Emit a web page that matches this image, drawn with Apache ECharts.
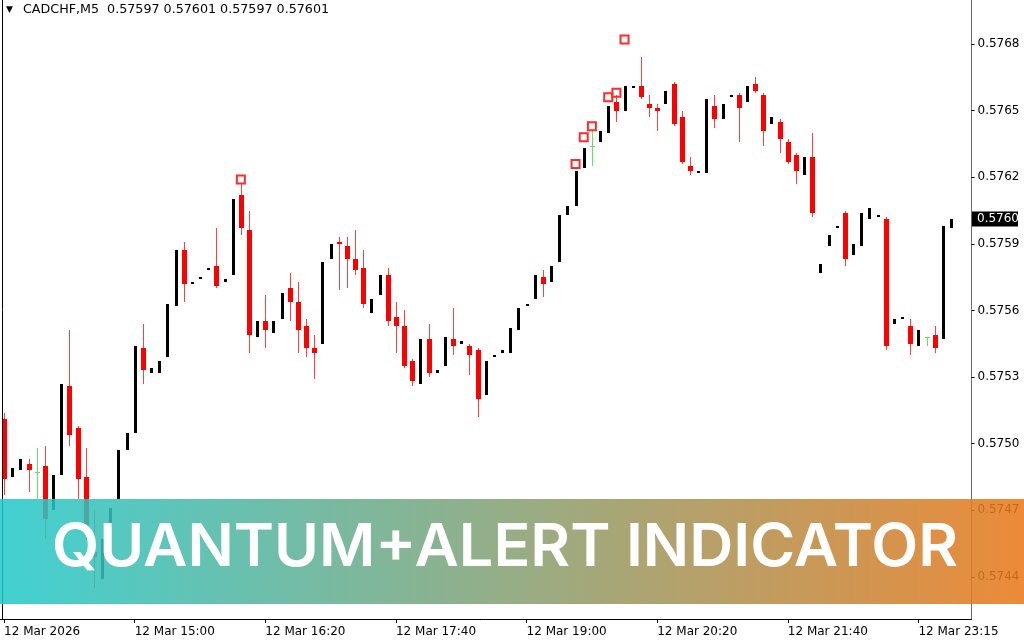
<!DOCTYPE html>
<html><head><meta charset="utf-8">
<script src="https://cdn.jsdelivr.net/npm/echarts@6/dist/echarts.min.js"></script>
<style>html,body{margin:0;padding:0;background:#fff}#c{width:1024px;height:640px}</style>
</head><body><div id="c"></div>
<script>
// ---------- data ----------
const headerText = 'CADCHF,M5  0.57597 0.57601 0.57597 0.57601';
const tickIdx = [0, 16, 32, 48, 64, 80, 96, 112];
const tickLabels = ['12 Mar 2026','12 Mar 15:00','12 Mar 16:20','12 Mar 17:40','12 Mar 19:00','12 Mar 20:20','12 Mar 21:40','12 Mar 23:15'];
const opens = [0.57511,0.57485,0.57488,0.57491,0.57487,0.57490,0.57470,0.57486,0.57526,0.57507,
 0.57485,0.57451,0.57439,0.57463,0.57475,0.57497,0.57505,0.57543,0.57532,0.57532,
 0.57539,0.57562,0.57587,0.57572,0.57574,0.57578,0.57580,0.57573,0.57576,0.57612,
 0.57596,0.57548,0.57555,0.57550,0.57556,0.57570,0.57564,0.57553,0.57543,0.57545,
 0.57583,0.57591,0.57589,0.57583,0.57579,0.57559,0.57567,0.57576,0.57557,0.57553,
 0.57537,0.57527,0.57547,0.57532,0.57535,0.57547,0.57545,0.57544,0.57542,0.57522,
 0.57539,0.57541,0.57541,0.57551,0.57562,0.57565,0.57575,0.57573,0.57582,0.57603,
 0.57607,0.57624,0.57634,0.57636,0.57640,0.57654,0.57650,0.57660,0.57661,0.57653,
 0.57651,0.57653,0.57662,0.57647,0.57625,0.57622,0.57622,0.57652,0.57646,0.57656,
 0.57657,0.57654,0.57662,0.57657,0.57644,0.57645,0.57636,0.57630,0.57621,0.57629,
 0.57577,0.57589,0.57597,0.57604,0.57585,0.57589,0.57601,0.57602,0.57601,0.57554,
 0.57556,0.57553,0.57544,0.57548,0.57549,0.57547,0.57597];
const highs = [0.57514,0.57489,0.57493,0.57493,0.57498,0.57499,0.57486,0.57527,0.57551,0.57508,
 0.57498,0.57470,0.57457,0.57471,0.57497,0.57505,0.57544,0.57554,0.57534,0.57537,
 0.57563,0.57587,0.57591,0.57573,0.57575,0.57579,0.57597,0.57574,0.57610,0.57617,
 0.57605,0.57555,0.57567,0.57555,0.57568,0.57577,0.57573,0.57556,0.57549,0.57582,
 0.57590,0.57593,0.57593,0.57596,0.57587,0.57565,0.57576,0.57579,0.57564,0.57560,
 0.57538,0.57547,0.57554,0.57533,0.57548,0.57561,0.57546,0.57545,0.57543,0.57537,
 0.57540,0.57542,0.57552,0.57561,0.57563,0.57576,0.57578,0.57580,0.57603,0.57607,
 0.57623,0.57633,0.57641,0.57641,0.57652,0.57657,0.57661,0.57661,0.57674,0.57657,
 0.57653,0.57659,0.57663,0.57650,0.57629,0.57623,0.57655,0.57657,0.57653,0.57657,
 0.57658,0.57661,0.57665,0.57658,0.57647,0.57646,0.57637,0.57631,0.57629,0.57640,
 0.57581,0.57594,0.57598,0.57605,0.57590,0.57604,0.57606,0.57603,0.57602,0.57556,
 0.57557,0.57556,0.57551,0.57548,0.57553,0.57598,0.57601];
const lows = [0.57477,0.57485,0.57488,0.57478,0.57475,0.57457,0.57470,0.57486,0.57499,0.57475,
 0.57457,0.57435,0.57439,0.57463,0.57475,0.57497,0.57505,0.57527,0.57532,0.57532,
 0.57539,0.57562,0.57564,0.57572,0.57574,0.57578,0.57570,0.57573,0.57576,0.57594,
 0.57541,0.57548,0.57543,0.57550,0.57556,0.57555,0.57541,0.57539,0.57529,0.57545,
 0.57583,0.57569,0.57570,0.57576,0.57561,0.57559,0.57567,0.57553,0.57541,0.57534,
 0.57526,0.57527,0.57530,0.57532,0.57535,0.57540,0.57545,0.57531,0.57512,0.57522,
 0.57539,0.57541,0.57541,0.57551,0.57562,0.57565,0.57566,0.57573,0.57582,0.57603,
 0.57607,0.57624,0.57625,0.57636,0.57640,0.57645,0.57650,0.57660,0.57655,0.57647,
 0.57641,0.57653,0.57643,0.57626,0.57621,0.57622,0.57622,0.57642,0.57646,0.57656,
 0.57636,0.57654,0.57658,0.57634,0.57644,0.57631,0.57626,0.57617,0.57621,0.57602,
 0.57577,0.57589,0.57597,0.57580,0.57585,0.57589,0.57601,0.57602,0.57542,0.57554,
 0.57556,0.57540,0.57544,0.57544,0.57541,0.57547,0.57597];
const closes = [0.57484,0.57489,0.57493,0.57488,0.57487,0.57466,0.57486,0.57527,0.57504,0.57484,
 0.57461,0.57449,0.57457,0.57471,0.57497,0.57505,0.57544,0.57533,0.57534,0.57537,
 0.57563,0.57587,0.57572,0.57573,0.57575,0.57579,0.57571,0.57574,0.57610,0.57597,
 0.57549,0.57555,0.57551,0.57555,0.57568,0.57564,0.57551,0.57543,0.57541,0.57582,
 0.57590,0.57590,0.57583,0.57578,0.57563,0.57565,0.57576,0.57555,0.57553,0.57535,
 0.57528,0.57547,0.57532,0.57533,0.57548,0.57544,0.57546,0.57540,0.57520,0.57537,
 0.57540,0.57542,0.57552,0.57561,0.57563,0.57576,0.57572,0.57580,0.57603,0.57607,
 0.57623,0.57633,0.57634,0.57641,0.57652,0.57650,0.57661,0.57661,0.57656,0.57651,
 0.57650,0.57659,0.57644,0.57627,0.57623,0.57623,0.57655,0.57646,0.57653,0.57657,
 0.57651,0.57661,0.57659,0.57641,0.57647,0.57637,0.57627,0.57623,0.57629,0.57604,
 0.57581,0.57594,0.57598,0.57583,0.57590,0.57604,0.57606,0.57603,0.57544,0.57556,
 0.57557,0.57545,0.57551,0.57548,0.57543,0.57598,0.57601];
const alertIdx = [29, 70, 71, 72, 74, 75, 76];
const alertPrice = [0.57619, 0.57626, 0.57638, 0.57643, 0.57656, 0.57658, 0.57682];
const priceTicks = { min: 0.5741, max: 0.5771, step: 0.0003 };
const bannerText = 'QUANTUM+ALERT INDICATOR';

// ---------- categories (5-minute bars, 3 bars missing after 21:55) ----------
const categories = [];
{
  let t = 13 * 60 + 40;
  for (let i = 0; i < opens.length; i++) {
    if (i === 100) t += 15;
    categories.push(String(Math.floor(t / 60)).padStart(2, '0') + ':' + String(t % 60).padStart(2, '0'));
    t += 5;
  }
  categories.push('', '');
}
const candleData = opens.map((o, i) => [i, o, closes[i], lows[i], highs[i]]);
const alertData = alertIdx.map((i, k) => [i, alertPrice[k]]);
const lastClose = closes[closes.length - 1];

// ---------- layout ----------
const plotW = 971.5, plotBottom = 619;
const pxPerPrice = 222000, refPrice = 0.5768, refY = 44;
const g1Top = refY - (priceTicks.max - refPrice) * pxPerPrice;
const g1H = (priceTicks.max - priceTicks.min) * pxPerPrice;

function renderCandle(params, api) {
  const i = api.value(0), o = api.value(1), c = api.value(2), l = api.value(3), h = api.value(4);
  const po = api.coord([i, o]), pc = api.coord([i, c]), pl = api.coord([i, l]), ph = api.coord([i, h]);
  const xc = Math.round(po[0]) + 0.5;
  const ch = [];
  if (c > o) {
    const y1 = Math.round(ph[1]), y2 = Math.round(pl[1]);
    ch.push({ type: 'rect', shape: { x: xc - 1.5, y: y1, width: 3, height: Math.max(y2 - y1, 2) }, style: { fill: '#000' } });
  } else if (c < o) {
    ch.push({ type: 'line', shape: { x1: xc, y1: Math.round(ph[1]), x2: xc, y2: Math.round(pl[1]) }, style: { stroke: '#ff4040', lineWidth: 1 } });
    const y1 = Math.round(po[1]), y2 = Math.round(pc[1]);
    ch.push({ type: 'rect', shape: { x: xc - 2.5, y: y1, width: 5, height: Math.max(y2 - y1, 2) }, style: { fill: '#ff0000' } });
  } else {
    ch.push({ type: 'line', shape: { x1: xc, y1: Math.round(ph[1]), x2: xc, y2: Math.round(pl[1]) }, style: { stroke: '#5ee65e', lineWidth: 1 } });
    const yy = Math.round(po[1]) + 0.5;
    ch.push({ type: 'line', shape: { x1: xc - 2.5, y1: yy, x2: xc + 2.5, y2: yy }, style: { stroke: '#5ee65e', lineWidth: 1 } });
  }
  return { type: 'group', children: ch };
}

// banner text width fit
const bannerFont = '600 59px Inter';
const mctx = document.createElement('canvas').getContext('2d');
mctx.font = bannerFont;
const bannerScale = 906 / mctx.measureText(bannerText).width;

const chart = echarts.init(document.getElementById('c'), null, { renderer: 'canvas' });
chart.setOption({
  backgroundColor: '#ffffff',
  animation: false,
  grid: [
    { left: 0, top: 0, width: plotW, height: plotBottom, containLabel: false, outerBoundsMode: 'none', show: false },
    { left: 0, top: g1Top, width: plotW, height: g1H, containLabel: false, outerBoundsMode: 'none', show: false }
  ],
  xAxis: [
    {
      gridIndex: 0, type: 'category', data: categories, boundaryGap: true,
      axisLine: { show: true, lineStyle: { color: '#000', width: 1 } },
      axisTick: { show: true, alignWithLabel: true, length: 4, lineStyle: { color: '#000' },
        interval: (idx) => tickIdx.includes(idx) },
      axisLabel: { show: true, interval: 0, align: 'left', margin: 7, color: '#000',
        fontFamily: 'DejaVu Sans', fontSize: 12,
        formatter: (v, idx) => { const k = tickIdx.indexOf(idx); return k >= 0 ? tickLabels[k] : ''; } },
      splitLine: { show: false }
    },
    { gridIndex: 1, type: 'category', data: categories, boundaryGap: true, show: false }
  ],
  yAxis: [
    { gridIndex: 0, type: 'value', position: 'right', min: 0, max: 1,
      axisLine: { show: true, lineStyle: { color: '#6e6e6e', width: 1 } },
      axisTick: { show: false }, axisLabel: { show: false }, splitLine: { show: false } },
    { gridIndex: 1, type: 'value', position: 'right', min: priceTicks.min, max: priceTicks.max, interval: priceTicks.step,
      axisLine: { show: false },
      axisTick: { show: true, length: 3, lineStyle: { color: '#000' } },
      axisLabel: { show: true, margin: 6, color: '#000', fontFamily: 'DejaVu Sans', fontSize: 12,
        showMinLabel: true, showMaxLabel: true,
        formatter: (v) => (v < 0.57435 || v > 0.57695) ? '' : v.toFixed(4) },
      splitLine: { show: false } }
  ],
  series: [
    { type: 'custom', xAxisIndex: 1, yAxisIndex: 1, data: candleData, renderItem: renderCandle,
      encode: { x: 0, y: [1, 2, 3, 4] }, clip: false, z: 3 },
    { type: 'scatter', xAxisIndex: 1, yAxisIndex: 1, data: alertData, symbol: 'rect', symbolSize: 8,
      itemStyle: { color: 'rgba(255,255,255,0)', borderColor: '#ff2a2a', borderWidth: 2, opacity: 1 }, z: 4,
      silent: true }
  ],
  graphic: [
    { id: 'leftBorder', type: 'line', z: 50, silent: true, shape: { x1: 2.5, y1: 0, x2: 2.5, y2: plotBottom }, style: { stroke: '#000', lineWidth: 1 } },
    { id: 'tri', type: 'text', z: 60, x: 6, y: 10, style: { text: '\u25BC', font: '9px DejaVu Sans', fill: '#000', verticalAlign: 'middle' } },
    { id: 'hdr', type: 'text', z: 60, x: 23, y: 10, style: { text: headerText, font: '12.7px DejaVu Sans', fill: '#000', verticalAlign: 'middle' } },
    { id: 'banner', type: 'rect', z: 100, silent: true, shape: { x: 0, y: 499, width: 1024, height: 105 },
      style: { opacity: 0.86, fill: new echarts.graphic.LinearGradient(0, 0, 1, 0, [
        { offset: 0, color: '#22c9cb' }, { offset: 1, color: '#e97718' } ]) } },
    { id: 'bannerText', type: 'text', z: 101, x: 505, y: 548, scaleX: bannerScale, scaleY: 1,
      style: { text: bannerText, font: bannerFont, fill: '#ffffff', align: 'center', verticalAlign: 'middle' } }
  ]
});

// current-price box on the price axis, placed through the axis scale
const yLast = Math.round(chart.convertToPixel({ yAxisIndex: 1 }, lastClose));
chart.setOption({
  graphic: [
    { id: 'priceBox', type: 'rect', z: 70, silent: true, shape: { x: 972, y: yLast - 7.5, width: 46, height: 15 }, style: { fill: '#000' } },
    { id: 'priceTxt', type: 'text', z: 71, silent: true, x: 977, y: yLast, style: { text: lastClose.toFixed(4), font: '12px DejaVu Sans', fill: '#fff', verticalAlign: 'middle' } }
  ]
});
</script>
</body></html>
